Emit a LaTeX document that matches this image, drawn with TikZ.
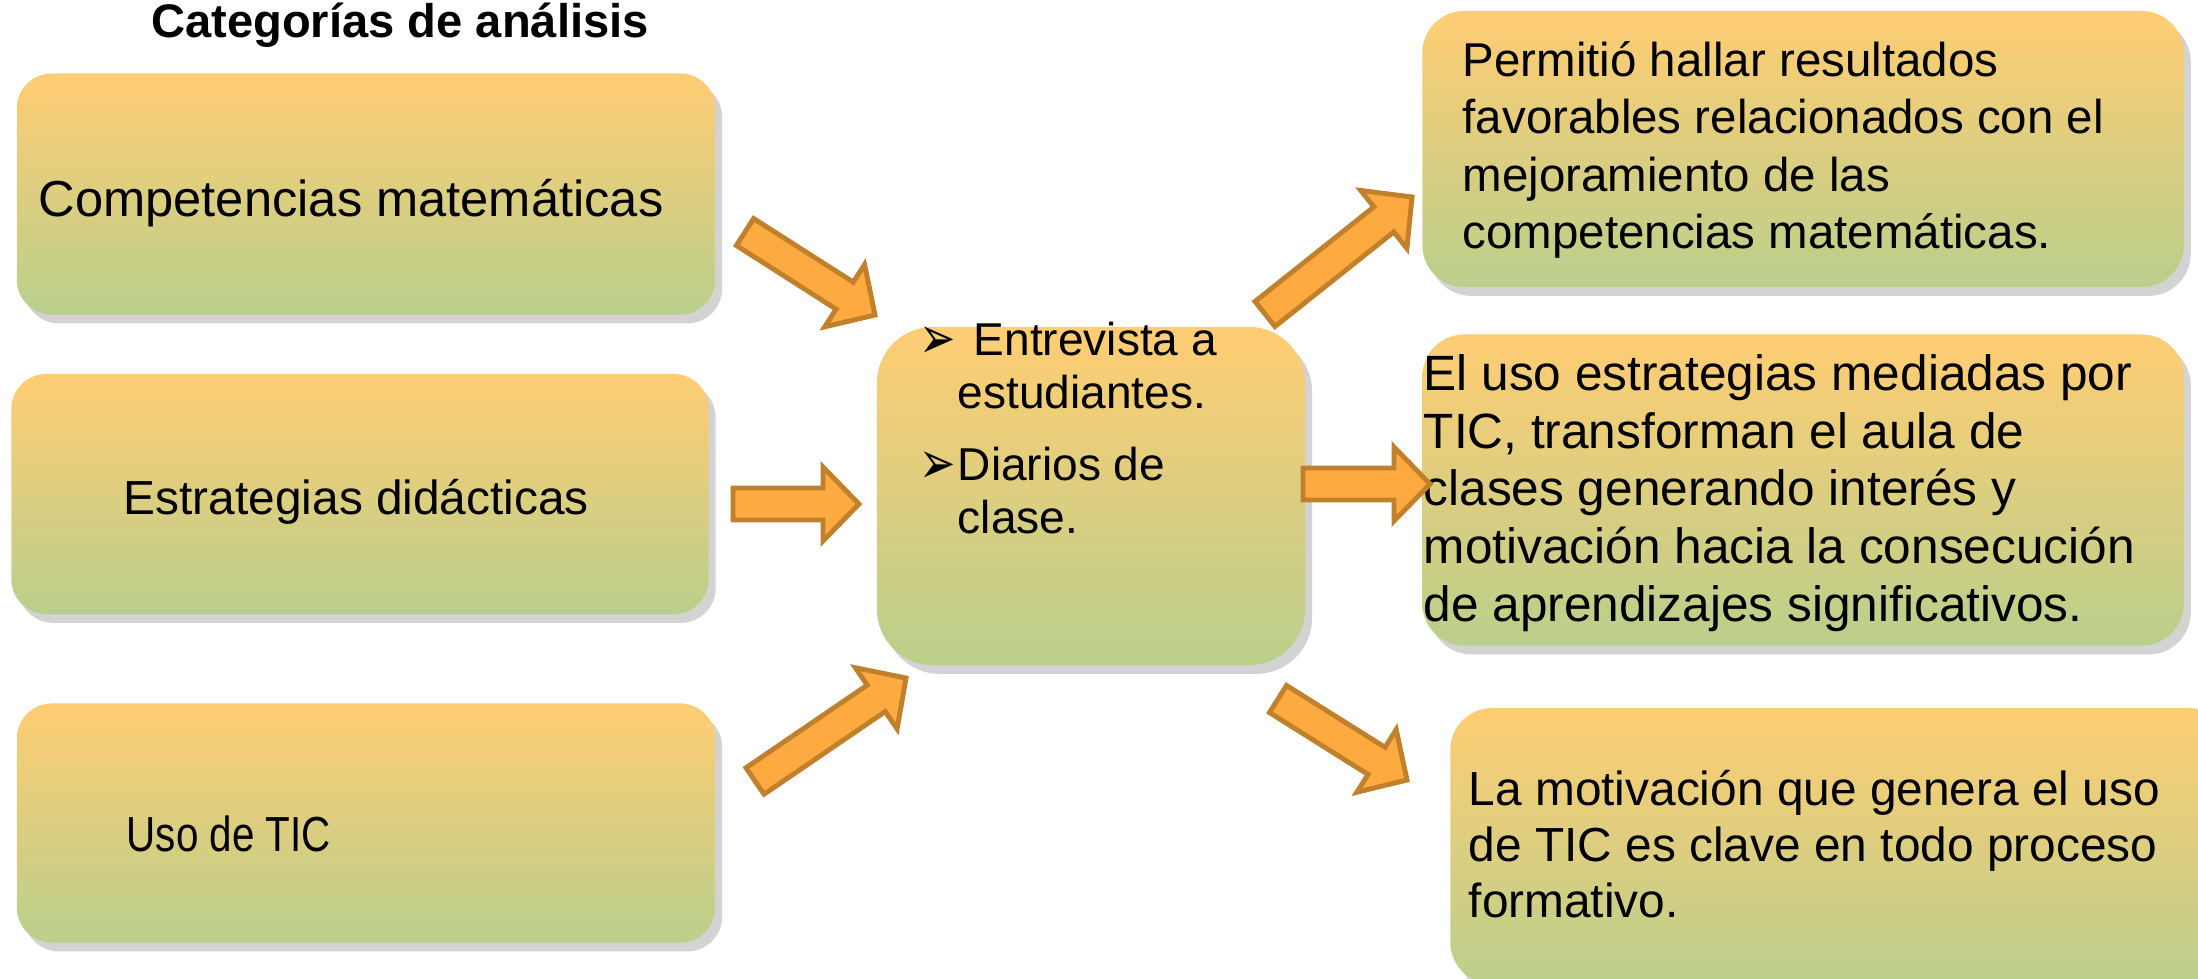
\documentclass[tikz,border=0pt]{standalone}
\usepackage{fontspec}
\setmainfont{Liberation Sans}
\newfontfamily\dingfont{DejaVu Sans}
\usepackage{tikz}
\usetikzlibrary{calc}
\usetikzlibrary{shadows}

\definecolor{boxtop}{RGB}{255,205,115}
\definecolor{boxbot}{RGB}{186,207,140}
\definecolor{arrfill}{RGB}{253,170,64}
\definecolor{arrline}{RGB}{193,129,44}

% block arrow from #1 to #2 (named coordinates)
\newcommand{\flecha}[2]{%
  \coordinate (hb) at ($(#2)!0.36cm!(#1)$);
  \draw[blockarrow] ($(#1)!0.16cm!90:(#2)$) -- ($(hb)!0.16cm!-90:(#1)$)
    -- ($(hb)!0.37cm!-90:(#1)$) -- (#2) -- ($(hb)!0.37cm!90:(#1)$)
    -- ($(hb)!0.16cm!90:(#1)$) -- ($(#1)!0.16cm!-90:(#2)$) -- cycle;}
\newcommand{\bul}{\raisebox{-1pt}{\scalebox{0.95}[1.3]{\dingfont\fontsize{13}{15}\selectfont ➢}}}

\begin{document}
\begin{tikzpicture}[x=0.01cm, y=-0.01cm,
    catbox/.style = {rectangle, rounded corners=0.35cm,
                     top color=boxtop, bottom color=boxbot,
                     drop shadow={shadow xshift=2pt, shadow yshift=-2.5pt, opacity=0.35}},
    resbox/.style = {catbox, rounded corners=0.42cm},
    texto/.style = {anchor=west, inner sep=0pt, align=left,
                    font=\fontsize{14}{16.4}\selectfont},
    blockarrow/.style = {fill=arrfill, draw=arrline, line width=1.4pt}]
  \useasboundingbox (0,0) rectangle (2198,978);

  \node (titulo) [font=\bfseries\fontsize{13.4}{16}\selectfont] at (400,25) {Categorías de análisis};

  % categorias
  \node (comp) [catbox, minimum width=6.98cm, minimum height=2.41cm] at (366,194) {};
  \node (estr) [catbox, minimum width=6.97cm, minimum height=2.40cm] at (360,494) {};
  \node (uso)  [catbox, minimum width=6.98cm, minimum height=2.39cm] at (366,823) {};
  \node (comp-t) [texto, font=\fontsize{14.4}{16.4}\selectfont] at (38,203) {Competencias matemáticas};
  \node (estr-t) [texto, font=\fontsize{13.6}{16.4}\selectfont] at (123,502) {Estrategias didácticas};
  \node (uso-t)  [texto] at (126,834) {\scalebox{0.82}[1]{Uso de TIC}};

  % instrumentos
  \node (instr) [catbox, rounded corners=0.56cm, minimum width=4.28cm, minimum height=3.38cm] at (1091,496) {};
  \node (instr-t) [texto, anchor=base west, font=\fontsize{13.1}{15.1}\selectfont] at (919,355)
    {\begin{tabular}[t]{@{}p{0.38cm}@{}l@{}}
       \bul & \hspace{0.16cm}Entrevista a\\
            & estudiantes.\\[5.4pt]
       \bul & Diarios de\\
            & clase.
     \end{tabular}};

  % resultados
  \node (res1) [resbox, minimum width=7.61cm, minimum height=2.76cm] at (1803,149) {};
  \node (res2) [resbox, minimum width=7.61cm, minimum height=3.11cm] at (1803,490) {};
  \node (res3) [resbox, minimum width=7.79cm, minimum height=2.76cm] at (1840,846) {};
  \node (res1-t) [texto, font=\fontsize{13.5}{16.3}\selectfont] at (1462,150)
    {Permitió hallar resultados\\favorables relacionados con el\\mejoramiento de las\\competencias matemáticas.};
  \node (res2-t) [texto, font=\fontsize{14.1}{16.4}\selectfont] at (1423,493)
    {El uso estrategias mediadas por\\TIC, transforman el aula de\\clases generando interés y\\motivación hacia la consecución\\de aprendizajes significativos.};
  \node (res3-t) [texto, font=\fontsize{13.6}{15.9}\selectfont] at (1468,844)
    {La motivación que genera el uso\\de TIC es clave en todo proceso\\formativo.};

  % flechas
  \coordinate (f1a) at (745,232);  \coordinate (f1b) at (875,315);
  \coordinate (f2a) at (733,504);  \coordinate (f2b) at (859,504);
  \coordinate (f3a) at (755,781);  \coordinate (f3b) at (906,678);
  \coordinate (f4a) at (1265,314); \coordinate (f4b) at (1412,197);
  \coordinate (f5a) at (1303,484); \coordinate (f5b) at (1430,484);
  \coordinate (f6a) at (1278,699); \coordinate (f6b) at (1407,780);
  \flecha{f1a}{f1b}
  \flecha{f2a}{f2b}
  \flecha{f3a}{f3b}
  \flecha{f4a}{f4b}
  \flecha{f5a}{f5b}
  \flecha{f6a}{f6b}
\end{tikzpicture}
\end{document}
